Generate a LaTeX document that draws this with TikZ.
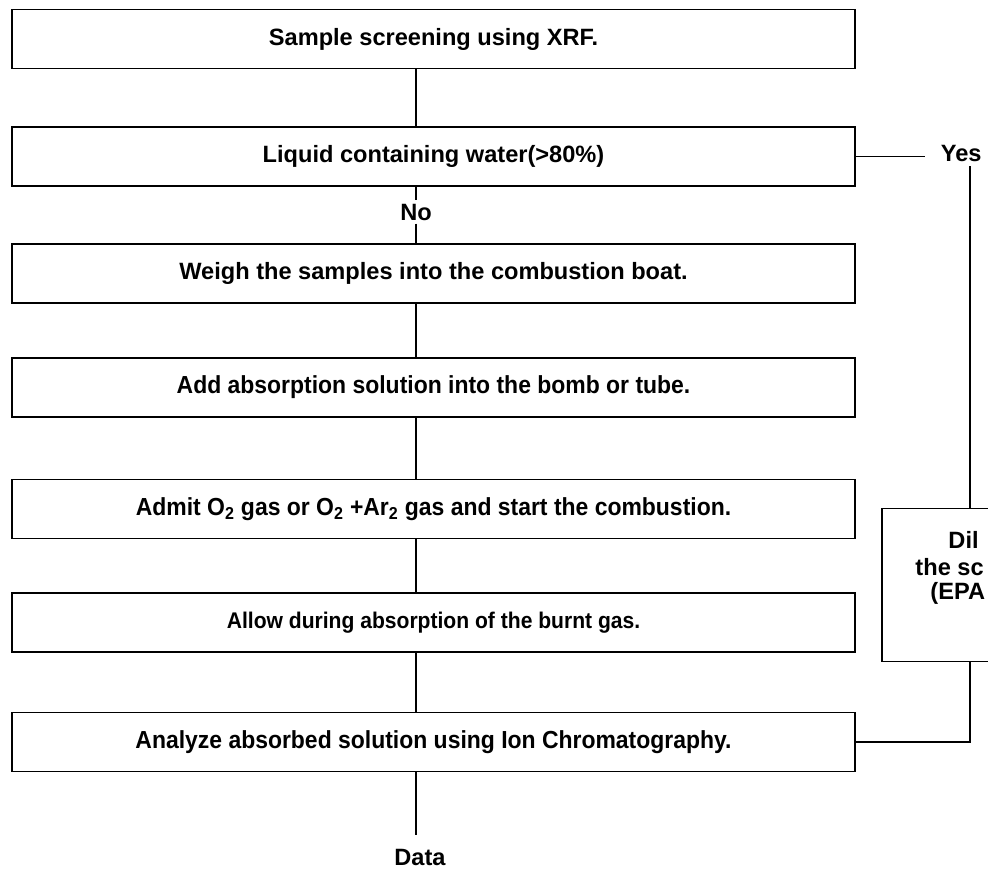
\documentclass[tikz,border=0pt]{standalone}
\usepackage{fontspec}
\setmainfont{Liberation Sans}
\newfontfamily\narrowfont[FakeStretch=0.93]{Liberation Sans}
\usepackage{tikz}
\tikzstyle{proc}=[draw, rectangle, line width=1.2pt, minimum width=632pt,
    minimum height=44pt, font=\fontsize{17.7}{21}\selectfont\bfseries]
\tikzstyle{narrowproc}=[proc, font=\fontsize{18.5}{22}\selectfont\narrowfont\bfseries]
\tikzstyle{lbl}=[font=\fontsize{17.7}{21}\selectfont\bfseries, inner sep=2pt]

\begin{document}
\begin{tikzpicture}[x=0.75pt, y=-0.75pt, line width=1.2pt]
  \useasboundingbox (0,0) rectangle (988,873);
  \clip (0,0) rectangle (988,873);
  \coordinate (spine) at (416,0);

  \node at (433.5,39) (scr)[proc] {Sample screening using XRF.};
  \node at (433.5,156.5) (liq)[proc] {Liquid containing water(>80\%)};
  \node at (416,212) (no)[lbl, fill=white] {No};
  \node at (433.5,273.5) (wgh)[proc] {Weigh the samples into the combustion boat.};
  \node at (433.5,387.5) (add)[narrowproc] {Add absorption solution into the bomb or tube.};
  \node at (433.5,509) (adm)[narrowproc] {Admit O\textsubscript{2} gas or O\textsubscript{2} +Ar\textsubscript{2} gas and start the combustion.};
  \node at (433.5,622.5) (alw)[narrowproc, font=\fontsize{17}{20}\selectfont\narrowfont\bfseries] {Allow during absorption of the burnt gas.};
  \node at (433.5,742) (ana)[narrowproc] {Analyze absorbed solution using Ion Chromatography.};
  \node at (420,857) (data)[lbl] {Data};

  % right branch, cut off at the page edge
  \node at (940,153) (yes)[lbl, anchor=west, inner sep=0pt] {Yes};
  \node at (970,585) (dil)[draw, rectangle, minimum width=132pt, minimum height=115pt] {};
  \node at (945,540) (dl1)[lbl, anchor=west] {Dil};
  \node at (912,567) (dl2)[lbl, anchor=west] {the sc};
  \node at (927,593) (dl3)[lbl, anchor=west] {(EPA};

  \draw (scr.south -| spine) -- (liq.north -| spine);
  \draw (liq.south -| spine) -- (no) -- (wgh.north -| spine);
  \draw (wgh.south -| spine) -- (add.north -| spine);
  \draw (add.south -| spine) -- (adm.north -| spine);
  \draw (adm.south -| spine) -- (alw.north -| spine);
  \draw (alw.south -| spine) -- (ana.north -| spine);
  \draw[shorten >=8pt] (ana.south -| spine) -- (data.north -| spine);

  \draw[shorten >=11pt] (liq.east) -- (liq.east -| yes.west);
  \draw (yes.south -| dil.north) ++(0,4) -- (dil.north);
  \draw (dil.south) |- (ana.east);
\end{tikzpicture}
\end{document}
